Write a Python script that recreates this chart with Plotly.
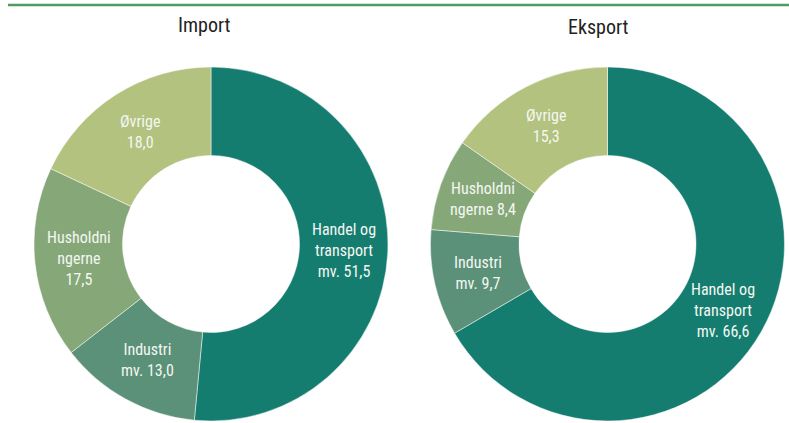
import math
import plotly.graph_objects as go

# Shares (%) by sector, clockwise from 12 o'clock
import_labels = ["Handel og<br>transport<br>mv.", "Industri<br>mv.", "Husholdni<br>ngerne<br>", "Øvrige<br>"]
import_values = [51.5, 13.0, 17.5, 18.0]

export_labels = ["Handel og<br>transport<br>mv.", "Industri<br>mv.", "Husholdni<br>ngerne", "Øvrige<br>"]
export_values = [66.6, 9.7, 8.4, 15.3]

sector_names = ["Handel og transport mv.", "Industri mv.", "Husholdningerne", "Øvrige"]
colors = ["#147d6f", "#5b9178", "#86a879", "#b3c27f"]

W, H = 789, 423
FONT = "Roboto Condensed, Liberation Sans, sans-serif"
HOLE = 0.5

# pie domains in paper coordinates
y_dom = [2 / H, 1 - 67 / H]
import_x = [34 / W, 388 / W]
export_x = [430.5 / W, 784.5 / W]


def fmt(v):
    return f"{v:.1f}".replace(".", ",")


def slice_annotations(labels, values, x_dom):
    """Place each label at mid-ring, at the angular middle of its slice."""
    x0, x1 = x_dom[0] * W, x_dom[1] * W
    y0, y1 = (1 - y_dom[1]) * H, (1 - y_dom[0]) * H
    r = min(x1 - x0, y1 - y0) / 2
    cx, cy = (x0 + x1) / 2, (y0 + y1) / 2
    rm = r * (1 + HOLE) / 2
    total = sum(values)
    anns = []
    acc = 0.0
    for lab, v in zip(labels, values):
        mid = (acc + v / 2) / total * 2 * math.pi
        acc += v
        px = cx + rm * math.sin(mid)
        py = cy - rm * math.cos(mid)
        sep = "" if lab.endswith("<br>") else " "
        anns.append(dict(
            x=px / W, y=1 - py / H, xref="paper", yref="paper",
            text=f"{lab}{sep}{fmt(v)}", showarrow=False,
            font=dict(family=FONT, size=16, color="#f4f7f2"),
            align="center", xanchor="center", yanchor="middle",
        ))
    return anns


fig = go.Figure()
for name, vals, xd in [("Import", import_values, import_x), ("Eksport", export_values, export_x)]:
    fig.add_trace(go.Pie(
        labels=sector_names, values=vals, hole=HOLE, sort=False,
        direction="clockwise", rotation=0,
        marker=dict(colors=colors, line=dict(color="rgba(255,255,255,0.6)", width=0.8)),
        textinfo="none", hoverinfo="label+value", name=name,
        domain=dict(x=xd, y=y_dom), showlegend=False,
    ))

annotations = slice_annotations(import_labels, import_values, import_x)
annotations += slice_annotations(export_labels, export_values, export_x)
annotations += [
    dict(x=204 / W, y=1 - 25 / H, xref="paper", yref="paper", text="Import", showarrow=False,
         font=dict(family=FONT, size=20, color="#222222"), xanchor="center", yanchor="middle"),
    dict(x=598 / W, y=1 - 27 / H, xref="paper", yref="paper", text="Eksport", showarrow=False,
         font=dict(family=FONT, size=20, color="#222222"), xanchor="center", yanchor="middle"),
]

fig.update_layout(
    width=W, height=H,
    margin=dict(l=0, r=0, t=0, b=0),
    paper_bgcolor="white", plot_bgcolor="white",
    annotations=annotations,
    shapes=[dict(type="line", xref="paper", yref="paper",
                 x0=8 / W, x1=1, y0=1 - 5 / H, y1=1 - 5 / H,
                 line=dict(color="#4e9b5c", width=2.5))],
)

fig.write_html("out.html")
